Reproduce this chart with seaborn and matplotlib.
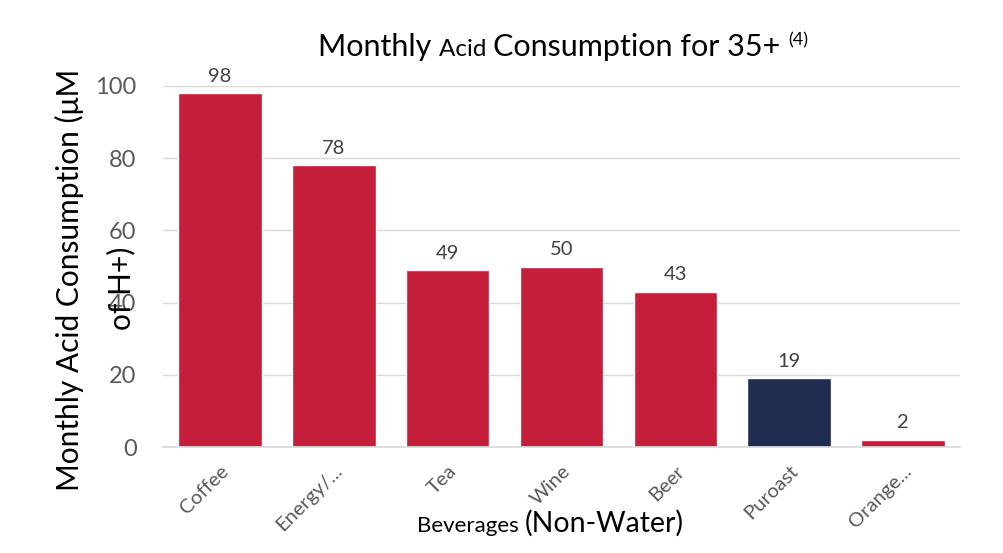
import matplotlib
matplotlib.use("Agg")
import matplotlib.pyplot as plt
import seaborn as sns
import pandas as pd

categories = ["Coffee", "Energy/...", "Tea", "Wine", "Beer", "Puroast", "Orange..."]
values = [98, 78, 49, 50, 43, 19, 2]
highlight = "Puroast"

RED = "#C41E3A"
NAVY = "#1F2D50"
GRAY = "#595959"

sns.set_theme(style="white")
plt.rcParams["font.family"] = ["Lato", "DejaVu Sans"]

df = pd.DataFrame({"Beverage": categories, "Value": values})
palette = {c: (NAVY if c == highlight else RED) for c in categories}

fig = plt.figure(figsize=(10.04, 5.53), dpi=100)
ax = fig.add_axes([163/1004, 1-447/553, 797/1004, (447-86)/553])
sns.barplot(data=df, x="Beverage", y="Value", hue="Beverage", palette=palette,
            width=0.735, legend=False, ax=ax, saturation=1)

ax.set_ylim(0, 100)
ax.set_xlim(-0.5, len(categories)-0.5)
ax.set_yticks([0, 20, 40, 60, 80, 100])
ax.yaxis.grid(True, color="#D9D9D9", linewidth=1)
ax.set_axisbelow(True)
for s in ["top", "right", "left"]:
    ax.spines[s].set_visible(False)
ax.spines["bottom"].set_color("#D9D9D9")
ax.tick_params(axis="y", labelsize=17, colors=GRAY, length=0, pad=19)
ax.tick_params(axis="x", labelsize=14.5, colors=GRAY, length=0, pad=11)
plt.setp(ax.get_xticklabels(), rotation=45, ha="right", rotation_mode="anchor")
ax.set_xlabel("")
ax.set_ylabel("")

for i, v in enumerate(values):
    ax.annotate(str(v), (i, v), xytext=(0, 6), textcoords="offset points",
                ha="center", va="bottom", fontsize=14.5, color="#404040",
                annotation_clip=False)

fig.canvas.draw()
renderer = fig.canvas.get_renderer()

def mixed(pieces, cx, y):
    # pieces: list of (text, size, dy_px)
    widths = []
    for t, s, dy in pieces:
        tt = fig.text(0, 0, t, fontsize=s)
        bb = tt.get_window_extent(renderer)
        widths.append(bb.width)
        tt.remove()
    total = sum(widths)
    x = cx - total/2
    for (t, s, dy), w in zip(pieces, widths):
        fig.text(x/1004, (y+dy)/553, t, fontsize=s, color="black",
                 ha="left", va="baseline")
        x += w

# Title
mixed([("Monthly ", 22, 0), ("Acid ", 17.5, 0), ("Consumption for 35+ ", 22, 0),
       ("(4)", 13, 11)], 563, 553-56)

# X label
mixed([("Beverages ", 16, 0), ("(Non-Water)", 20.5, 0)], 550, 553-532)

# Y label
fig.text(69/1004, 1-280/553, "Monthly Acid Consumption (\u03bcM", rotation=90,
         fontsize=21.5, color="black", ha="center", va="center")
fig.text(121/1004, 1-288/553, "of H+)", rotation=90,
         fontsize=21.5, color="black", ha="center", va="center")

fig.savefig("out.png", dpi=100)
